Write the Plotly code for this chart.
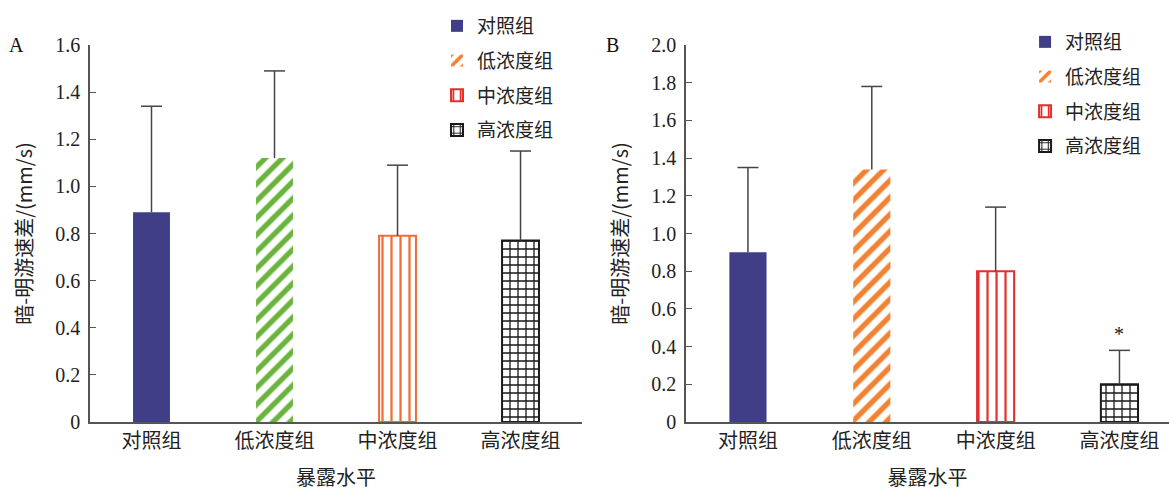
import plotly.graph_objects as go

categories = ["对照组", "低浓度组", "中浓度组", "高浓度组"]
group_names = ["对照组", "低浓度组", "中浓度组", "高浓度组"]

a_values = [0.89, 1.12, 0.79, 0.77]
a_errors = [0.45, 0.37, 0.30, 0.38]
b_values = [0.90, 1.34, 0.80, 0.20]
b_errors = [0.45, 0.44, 0.34, 0.18]

a_yticks = [0, 0.2, 0.4, 0.6, 0.8, 1.0, 1.2, 1.4, 1.6]
a_yticktext = ["0", "0.2", "0.4", "0.6", "0.8", "1.0", "1.2", "1.4", "1.6"]
b_yticks = [0, 0.2, 0.4, 0.6, 0.8, 1.0, 1.2, 1.4, 1.6, 1.8, 2.0]
b_yticktext = ["0", "0.2", "0.4", "0.6", "0.8", "1.0", "1.2", "1.4", "1.6", "1.8", "2.0"]

NAVY = "#403E86"
GREEN = "#6AB43E"
ORANGE_RED = "#F06C35"
ORANGE = "#F28233"
RED = "#E0312F"
BLACK = "#1a1a1a"
AXIS = "#555555"
ERR = "#444444"
SERIF = "Liberation Serif"
CJK = "Noto Sans CJK SC"


def style(i, panel):
    """Marker dict for group i in panel 'A', 'B' or 'L' (legend swatches)."""
    if i == 0:
        return dict(color=NAVY, line=dict(width=0))
    if i == 1:
        c = GREEN if panel == "A" else ORANGE
        return dict(color="white", line=dict(width=0),
                    pattern=dict(shape="/", fgcolor=c, bgcolor="white", fgopacity=1,
                                 size=12, solidity=0.45, fillmode="overlay"))
    if i == 2:
        c = ORANGE_RED if panel == "A" else RED
        return dict(color="white", line=dict(width=2, color=c),
                    pattern=dict(shape="|", fgcolor=c, bgcolor="white", fgopacity=1,
                                 size=9, solidity=0.25, fillmode="overlay"))
    return dict(color="white", line=dict(width=2, color=BLACK),
                pattern=dict(shape="+", fgcolor=BLACK, bgcolor="white", fgopacity=1,
                             size=8, solidity=0.3, fillmode="overlay"))


def error_traces(values, errors, xa, ya):
    xs, ys = [], []
    tops = []
    for c, v, e in zip(categories, values, errors):
        xs += [c, c, None]
        ys += [v, v + e, None]
        tops.append(v + e)
    stem = go.Scatter(x=xs, y=ys, mode="lines", line=dict(color=ERR, width=1.5),
                      showlegend=False, hoverinfo="skip", xaxis=xa, yaxis=ya)
    caps = go.Scatter(x=categories, y=tops, mode="markers",
                      marker=dict(symbol="line-ew", size=15,
                                  line=dict(color=ERR, width=1.5)),
                      showlegend=False, hoverinfo="skip", xaxis=xa, yaxis=ya)
    return [stem, caps]


fig = go.Figure()

for i in range(4):
    fig.add_trace(go.Bar(
        x=[categories[i]], y=[a_values[i]], width=0.3,
        marker=style(i, "A"), showlegend=False, xaxis="x", yaxis="y"))

for i in range(4):
    fig.add_trace(go.Bar(
        x=[categories[i]], y=[b_values[i]], width=0.3,
        marker=style(i, "B"), name=group_names[i], legend="legend2",
        legendgroup="b" + str(i), xaxis="x2", yaxis="y2"))

# legend-only entries for panel A (uses the same swatches as panel B)
for i in range(4):
    fig.add_trace(go.Bar(
        x=[categories[i]], y=[None], marker=style(i, "L"), name=group_names[i],
        legend="legend", legendgroup="a" + str(i), xaxis="x", yaxis="y"))

for t in error_traces(a_values, a_errors, "x", "y"):
    fig.add_trace(t)
for t in error_traces(b_values, b_errors, "x2", "y2"):
    fig.add_trace(t)

fig.add_annotation(x=categories[3], y=b_values[3] + b_errors[3], xref="x2", yref="y2",
                   text="*", showarrow=False, yshift=16,
                   font=dict(family=SERIF, size=20, color="#222"))

TOP = 377 / 416
fig.add_annotation(x=-0.0677, y=TOP, xref="paper", yref="paper", text="A",
                   showarrow=False, xanchor="center", yanchor="middle",
                   font=dict(family=SERIF, size=20, color="#111"))
fig.add_annotation(x=0.4847, y=TOP, xref="paper", yref="paper", text="B",
                   showarrow=False, xanchor="center", yanchor="middle",
                   font=dict(family=SERIF, size=20, color="#111"))

xcommon = dict(type="category", categoryorder="array", categoryarray=categories,
               showline=True, linecolor=AXIS, linewidth=1.5, ticks="",
               showgrid=False, zeroline=False, automargin=False,
               tickfont=dict(family=CJK, size=20, color="#222"),
               title=dict(text="暴露水平", font=dict(family=CJK, size=20, color="#222"),
                          standoff=18))
ycommon = dict(showline=True, linecolor=AXIS, linewidth=1.5, ticks="inside",
               ticklen=6, tickcolor=AXIS, tickwidth=1.2, showgrid=False, zeroline=False,
               automargin=False,
               tickfont=dict(family=SERIF, size=20, color="#222"), ticklabelstandoff=4,
               title=dict(text="暗-明游速差/(mm/s)",
                          font=dict(family=CJK, size=20, color="#222"), standoff=17))

legend_common = dict(xanchor="left", yanchor="top", bgcolor="rgba(0,0,0,0)",
                     font=dict(family=CJK, size=19, color="#222"), tracegroupgap=7)

fig.update_layout(
    width=1169, height=491,
    margin=dict(l=90, r=0, t=6, b=69, autoexpand=False),
    paper_bgcolor="white", plot_bgcolor="white",
    barmode="overlay",
    xaxis=dict(xcommon, domain=[0, 0.456], anchor="y", range=[-0.5, 3.5]),
    yaxis=dict(ycommon, domain=[0, TOP], anchor="x", range=[0, 1.6],
               tickvals=a_yticks, ticktext=a_yticktext),
    xaxis2=dict(xcommon, domain=[0.5524, 1], anchor="y2", range=[-0.5, 3.4]),
    yaxis2=dict(ycommon, domain=[0, TOP], anchor="x2", range=[0, 2.0],
                tickvals=b_yticks, ticktext=b_yticktext),
    legend=dict(legend_common, x=0.3216, y=0.9976),
    legend2=dict(legend_common, x=0.8666, y=0.9591),
)

fig.write_html("out.html", config={"displayModeBar": False},
               post_script="document.body.style.margin='0';document.body.style.overflow='hidden';")
